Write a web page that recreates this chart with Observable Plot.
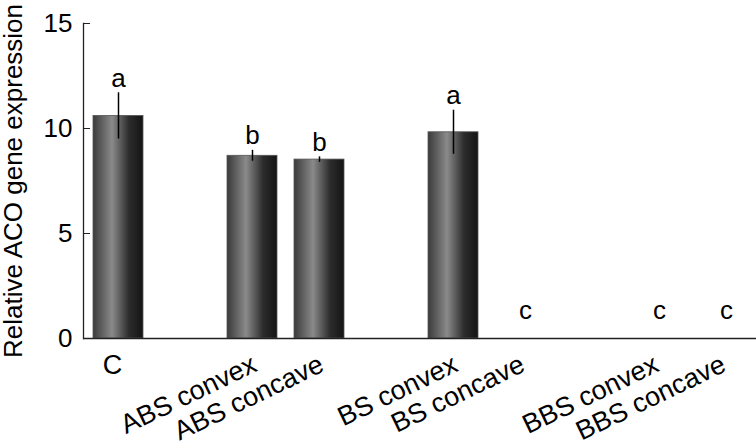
<!DOCTYPE html>
<html>
<head>
<meta charset="utf-8">
<script src="https://cdn.jsdelivr.net/npm/d3@7"></script>
<script src="https://cdn.jsdelivr.net/npm/@observablehq/plot@0.6"></script>
<style>
  body { margin: 0; background: #fff; }
  #chart svg { display: block; }
</style>
</head>
<body>
<div id="chart"></div>
<script>
// ---- data ----
const slots = ["C", "gap1", "ABS convex", "ABS concave", "gap2", "BS convex", "BS concave", "gap3", "BBS convex", "BBS concave"];
const categories = ["C", "ABS convex", "ABS concave", "BS convex", "BS concave", "BBS convex", "BBS concave"];
const values = [10.6, 8.7, 8.52, 9.82, 0, 0, 0];
const errors = [1.1, 0.26, 0.13, 1.05, 0, 0, 0];
const letters = ["a", "b", "b", "a", "c", "c", "c"];
const yTicks = [0, 5, 10, 15];
const yLabel = "Relative ACO gene expression";

const data = categories.map((c, i) => ({cat: c, value: values[i], err: errors[i], letter: letters[i]}));
const font = "'Liberation Sans', Arial, Helvetica, sans-serif";

const defs = () => {
  const d = d3.create("svg:defs");
  const g = d.append("linearGradient").attr("id", "barGrad")
    .attr("x1", "0").attr("x2", "1").attr("y1", "0").attr("y2", "0");
  [[0, "#3a3a3a"], [0.38, "#8a8a8a"], [0.72, "#2c2c2c"], [1, "#141414"]].forEach(([o, c]) =>
    g.append("stop").attr("offset", o).attr("stop-color", c));
  return d.node();
};

const chart = Plot.plot({
  width: 756,
  height: 448,
  marginTop: 23,
  marginBottom: 110,
  marginLeft: 83,
  marginRight: 0,
  style: {fontFamily: font, background: "#fff", color: "#000"},
  x: {domain: slots, paddingInner: 0.26, paddingOuter: 0.13, axis: null},
  y: {domain: [0, 15], axis: null},
  marks: [
    defs,
    Plot.barY(data.filter(d => d.value > 0), {x: "cat", y: "value", fill: "url(#barGrad)", stroke: "#555", strokeWidth: 0.8}),
    Plot.ruleX(data.filter(d => d.err > 0), {x: "cat", y1: d => d.value - d.err, y2: d => d.value + d.err, stroke: "#000", strokeWidth: 1.5}),
    Plot.frame({anchor: "left", stroke: "#222", strokeWidth: 1.3}),
    Plot.ruleY([0], {stroke: "#222", strokeWidth: 1.3}),
    Plot.axisY({ticks: yTicks, tickSize: -7, tickPadding: 18, fontSize: 26, label: null, stroke: "#222", fill: "#000"}),
    // significance letters
    Plot.text(data.filter(d => d.value > 0), {x: "cat", y: d => d.value + d.err, text: "letter", dy: -6, lineAnchor: "bottom", fontSize: 26, fill: "#000"}),
    Plot.text(data.filter(d => d.value === 0), {x: "cat", y: 0, text: "letter", dx: 5, dy: -20, lineAnchor: "bottom", fontSize: 26, fill: "#000"}),
    // category labels
    Plot.text(data.filter(d => d.cat === "C"), {x: "cat", y: 0, text: "cat", dx: -6, dy: 35, lineAnchor: "bottom", fontSize: 27, fill: "#000"}),
    Plot.text(data.filter(d => d.cat !== "C"), {x: "cat", y: 0, text: "cat", rotate: -25.7, textAnchor: "end", dx: 6, dy: 32, lineAnchor: "bottom", fontSize: 27, fill: "#000"}),
    // y label
    Plot.text([yLabel], {frameAnchor: "left", text: d => d, rotate: -90, textAnchor: "middle", dx: -70, lineAnchor: "middle", fontSize: 26, fill: "#000"})
  ]
});
document.getElementById("chart").appendChild(chart);
</script>
</body>
</html>
